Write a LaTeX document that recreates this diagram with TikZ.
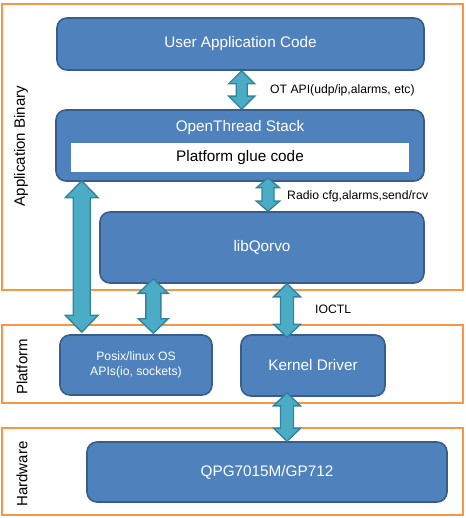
\documentclass[tikz,border=0pt]{standalone}
\usepackage{fontspec}
\setmainfont{Liberation Sans}
\usetikzlibrary{calc}
\definecolor{boxblue}{HTML}{4F81BD}
\definecolor{boxedge}{HTML}{385D8A}
\definecolor{arrfill}{HTML}{4BACC6}
\definecolor{arredge}{HTML}{31849B}
\definecolor{frameorange}{HTML}{F79646}
\tikzset{
  bluebox/.style={draw=boxedge, line width=1.6pt, fill=boxblue, rounded corners=10pt,
    text=white, font=\fontsize{15.3}{18}\selectfont, inner sep=0pt},
  layerframe/.style={draw=frameorange, line width=2.8pt, inner sep=0pt},
  sidelabel/.style={rotate=90, font=\fontsize{15}{18}\selectfont, text=black, inner sep=0pt},
  arrlabel/.style={anchor=west, font=\fontsize{12.2}{15}\selectfont, text=black, inner sep=0pt},
  blockarrow/.style={draw=arredge, fill=arrfill, line width=1.4pt, line join=miter}
}
% #1 top tip, #2 bottom tip, #3 shaft half-width, #4 head half-width, #5 head length
\newcommand\dblarr[5]{%
  \draw[blockarrow] let \p1=#1, \p2=#2 in
    (\x1,\y1) -- ({\x1+#4pt},{\y1-#5pt}) -- ({\x1+#3pt},{\y1-#5pt})
    -- ({\x1+#3pt},{\y2+#5pt}) -- ({\x1+#4pt},{\y2+#5pt}) -- (\x1,\y2)
    -- ({\x1-#4pt},{\y2+#5pt}) -- ({\x1-#3pt},{\y2+#5pt})
    -- ({\x1-#3pt},{\y1-#5pt}) -- ({\x1-#4pt},{\y1-#5pt}) -- cycle;}
\begin{document}
\begin{tikzpicture}[x=1pt,y=-1pt]
\useasboundingbox (0,0) rectangle (465,518);
% layer frames
\node[layerframe, minimum width=461pt, minimum height=286pt] (appframe) at (232.5,147) {};
\node[layerframe, minimum width=461pt, minimum height=78pt] (platframe) at (232.5,364) {};
\node[layerframe, minimum width=461pt, minimum height=87pt] (hwframe) at (232.5,471.5) {};
\node[sidelabel] (applbl) at (21,146) {Application Binary};
\node[sidelabel] (platlbl) at (22,367) {Platform};
\node[sidelabel] (hwlbl) at (22,474) {Hardware};
% boxes
\node[bluebox, minimum width=367pt, minimum height=52pt] (uac) at (240.5,44) {User Application Code};
\node[bluebox, minimum width=368pt, minimum height=71pt] (ot) at (240,145.5) {};
\node[text=white, font=\fontsize{15.3}{18}\selectfont, inner sep=0pt] (otlbl) at (240,128) {OpenThread Stack};
\node[fill=white, draw=none, minimum width=338pt, minimum height=29pt, inner sep=0pt,
  font=\fontsize{15.3}{18}\selectfont] (glue) at (240,157.5) {Platform glue code};
\node[bluebox, minimum width=324pt, minimum height=71pt] (libq) at (262,247.5) {libQorvo};
\node[bluebox, minimum width=152pt, minimum height=60pt, align=center,
  font=\fontsize{12.2}{15}\selectfont] (posix) at (136,365) {Posix/linux OS\\APIs(io, sockets)};
\node[bluebox, minimum width=144pt, minimum height=61pt] (kern) at (313,365.5) {Kernel Driver};
\node[bluebox, minimum width=360pt, minimum height=60pt] (qpg) at (267,472) {QPG7015M/GP712};
% arrow x positions
\coordinate (xa) at (241.7,0);
\coordinate (xb) at (268,0);
\coordinate (xc) at (81.7,0);
\coordinate (xd) at (153.3,0);
\coordinate (xe) at (287,0);
% arrows
\dblarr{(xa |- uac.south)}{(xa |- ot.north)}{5.5}{13}{13}
\dblarr{($(xb |- ot.south)+(0,-4)$)}{(xb |- libq.north)}{6}{11.5}{10}
\dblarr{($(xc |- ot.south)+(0,-1)$)}{($(xc |- posix.north)+(0,-2)$)}{8.5}{16.5}{17}
\dblarr{($(xd |- libq.south)+(0,-5)$)}{($(xd |- posix.north)+(0,-1)$)}{7.5}{15}{14.5}
\dblarr{(xe |- libq.south)}{($(xe |- kern.north)+(0,3)$)}{6.5}{13.5}{13}
\dblarr{($(xe |- kern.south)+(0,-4)$)}{(xe |- qpg.north)}{6.5}{13.5}{13}
% arrow labels
\node[arrlabel] (otapi) at (270,90) {OT API(udp/ip,alarms, etc)};
\node[arrlabel] (radio) at (287,196) {Radio cfg,alarms,send/rcv};
\node[arrlabel] (ioctl) at (315,309) {IOCTL};
\end{tikzpicture}
\end{document}
